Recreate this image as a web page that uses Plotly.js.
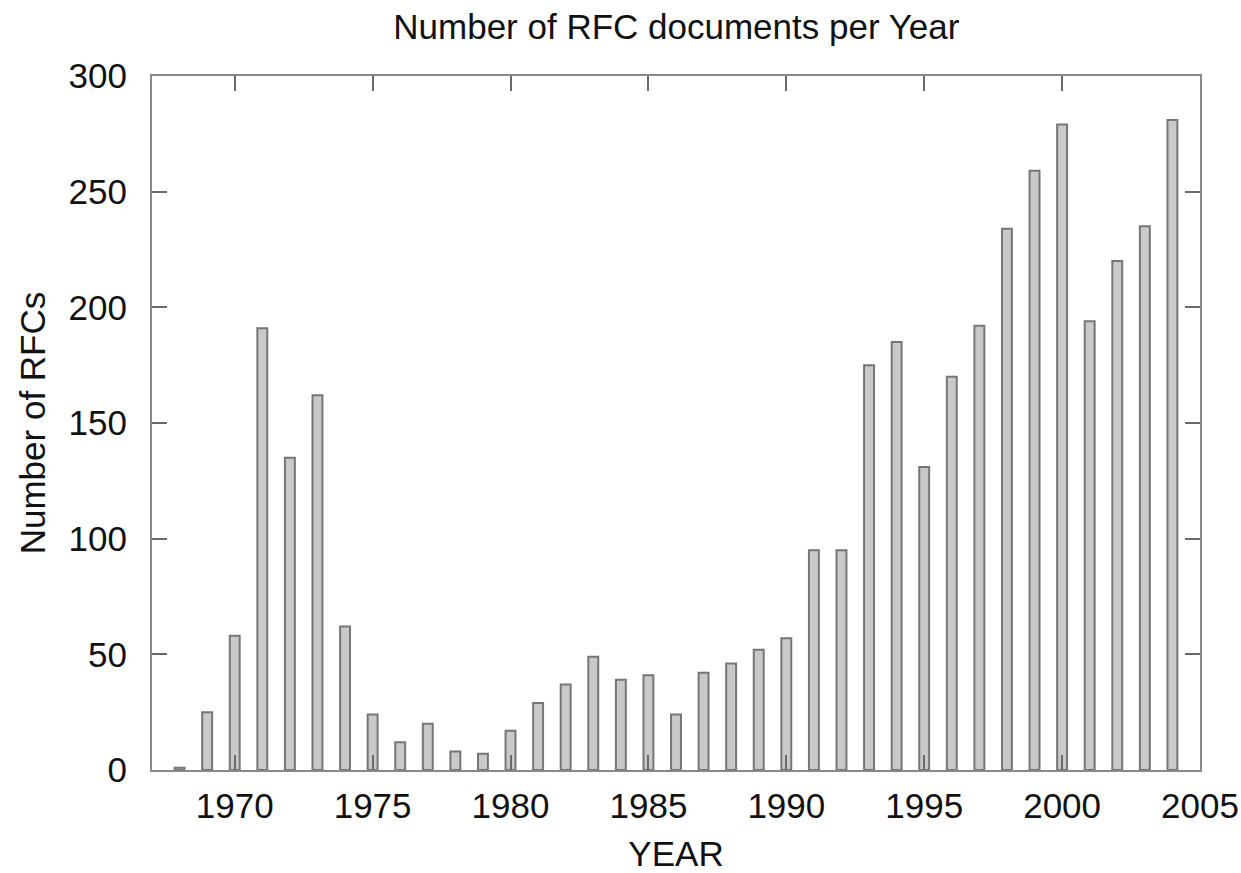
<!DOCTYPE html>
<html>
<head>
<meta charset="utf-8">
<script src="https://cdn.plot.ly/plotly-3.0.1.min.js"></script>
<style>html,body{margin:0;padding:0;background:#fff;}#chart{width:1241px;height:873px;}</style>
</head>
<body>
<div id="chart"></div>
<script>
var years = [1968,1969,1970,1971,1972,1973,1974,1975,1976,1977,1978,1979,1980,1981,1982,1983,1984,1985,1986,1987,1988,1989,1990,1991,1992,1993,1994,1995,1996,1997,1998,1999,2000,2001,2002,2003,2004];
var rfcCounts = [1,25,58,191,135,162,62,24,12,20,8,7,17,29,37,49,39,41,24,42,46,52,57,95,95,175,185,131,170,192,234,259,279,194,220,235,281];

var FONT = 'Liberation Sans, Arial, sans-serif';
var trace = {
  type: 'bar',
  x: years,
  y: rfcCounts,
  width: 0.36,
  marker: {color: '#c9c9c9', line: {color: '#767676', width: 2}},
  hoverinfo: 'x+y'
};
var axisCommon = {
  showline: true, linecolor: '#888', linewidth: 2, mirror: 'ticks',
  ticks: 'inside', ticklen: 15, tickwidth: 2, tickcolor: '#6a6a6a',
  showgrid: false, zeroline: false,
  tickfont: {family: FONT, size: 35, color: '#111'}
};
var layout = {
  width: 1241, height: 873,
  margin: {l: 152, r: 41, t: 76, b: 103},
  paper_bgcolor: '#fff', plot_bgcolor: '#fff',
  showlegend: false,
  bargap: 0,
  title: {text: 'Number of RFC documents per Year', font: {family: FONT, size: 35, color: '#111'}, x: 0.545, xanchor: 'center', y: 0.969, yanchor: 'middle'},
  xaxis: Object.assign({}, axisCommon, {
    range: [1967, 2005], tick0: 1970, dtick: 5, ticklabelstandoff: 4,
    title: {text: 'YEAR', font: {family: FONT, size: 35, color: '#111'}, standoff: 19}
  }),
  yaxis: Object.assign({}, axisCommon, {
    range: [0, 300], tick0: 0, dtick: 50, ticklabelstandoff: 16,
    title: {text: 'Number of RFCs', font: {family: FONT, size: 35, color: '#111'}, standoff: 12}
  })
};
Plotly.newPlot('chart', [trace], layout, {displayModeBar: false, staticPlot: true});
</script>
</body>
</html>
